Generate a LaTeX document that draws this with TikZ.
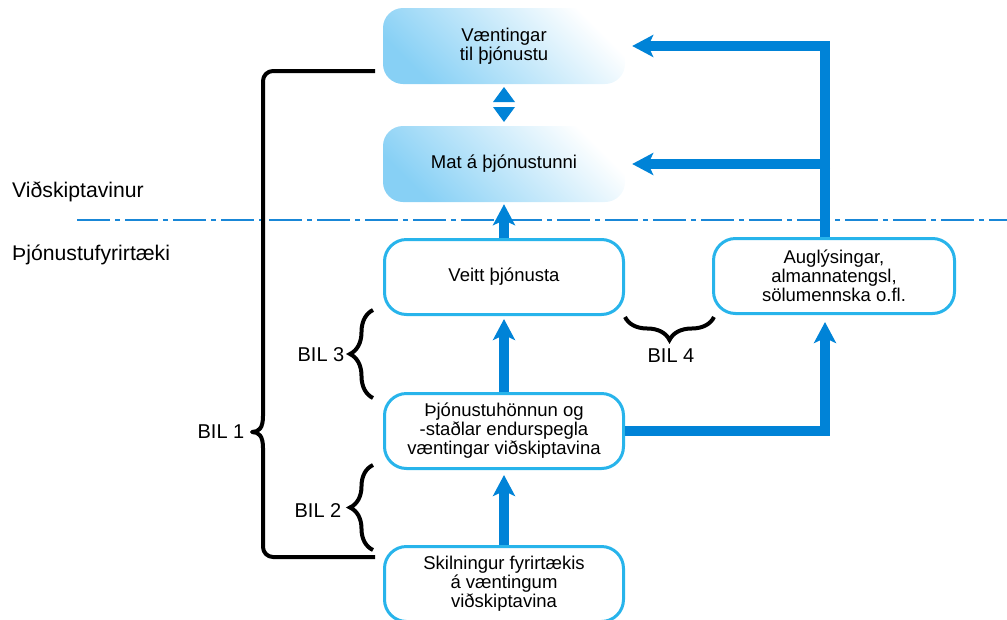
\documentclass[tikz,border=0pt]{standalone}
\usepackage{fontspec}
\setmainfont{Liberation Sans}
\usetikzlibrary{arrows.meta,decorations.pathreplacing,calc}
\definecolor{arrowblue}{RGB}{0,131,215}
\definecolor{boxcyan}{RGB}{40,180,235}
\definecolor{gradblue}{RGB}{135,208,245}
\definecolor{dashblue}{RGB}{25,135,215}
\begin{document}
\begin{tikzpicture}[x=1pt,y=-1pt,
  boxfont/.style={font=\fontsize{18.5}{19}\selectfont},
  gbox/.style={boxfont, align=center, inner sep=0pt, rounded corners=20pt,
    minimum width=242pt, minimum height=76pt,
    left color=gradblue, right color=white, shading angle=135},
  obox/.style={boxfont, align=center, inner sep=0pt, draw=boxcyan, line width=3pt,
    fill=white, rounded corners=22pt, minimum width=239pt, minimum height=75pt},
  bigarrow/.style={draw=arrowblue, line width=10pt, line join=miter,
    -{Stealth[length=21pt,width=22pt,inset=5pt]}},
  bil/.style={font=\fontsize{20}{22}\selectfont},
  side/.style={font=\fontsize{21.2}{24}\selectfont, anchor=base west, inner sep=0pt},
  bracestyle/.style={draw=black, line width=4pt, decorate,
    decoration={brace, amplitude=23pt}},
]
\useasboundingbox (0,0) rectangle (1007,619);

% separator
\draw[dashblue, line width=2pt, dash pattern=on 33pt off 5pt on 5pt off 5pt] (77,220) -- (1007,220);

% side labels
\node[side] (cust) at (12,197) {Viðskiptavinur};
\node[side] (firm) at (12,260) {Þjónustufyrirtæki};

% boxes
\node[gbox] (exp) at (504,46) {Væntingar\\til þjónustu};
\node[gbox] (mat) at (504,164) {Mat á þjónustunni};
\node[obox] (veitt) at (504,277) {Veitt þjónusta};
\node[obox] (hon) at (504,431) {Þjónustuhönnun og\\-staðlar endurspegla\\væntingar viðskiptavina};
\node[obox] (skil) at (504,584) {Skilningur fyrirtækis\\á væntingum\\viðskiptavina};
\node[obox, minimum width=241pt] (aug) at (834,276) {Auglýsingar,\\almannatengsl,\\sölumennska o.fl.};

% double arrow between top boxes
\fill[arrowblue] (493,102) -- (504,87) -- (515,102) -- cycle;
\fill[arrowblue] (493,107) -- (515,107) -- (504,122) -- cycle;

% thick arrows
\draw[bigarrow, shorten >=2pt] (veitt.north) -- (mat.south);
\draw[bigarrow, shorten >=3pt] (hon.north) -- (veitt.south);
\draw[bigarrow, shorten >=5pt] (skil.north) -- (hon.south);
\draw[bigarrow, shorten >=7pt] (hon.east) -| ([xshift=-9pt]aug.south);
\draw[bigarrow, shorten >=7pt] ([xshift=-9pt]aug.north) |- (exp.east);
\draw[bigarrow, shorten >=7pt] ([xshift=-4pt]aug.north |- mat.east) -- (mat.east);

% braces
\draw[bracestyle] (373,398) -- (373,310);
\draw[bracestyle] (373,550) -- (373,465);
\draw[bracestyle] (714,317) -- (625,317);
\draw[line width=4pt, line join=round]
  (375,71) [rounded corners=10pt] -- (263,71) -- (263,300) [sharp corners] -- (263,416)
  .. controls (263,428) and (259,432) .. (252,432)
  .. controls (259,432) and (263,436) .. (263,448)
  [rounded corners=10pt] -- (263,557) -- (375,557);

% BIL labels
\node[bil] (b1) at (221,432) {BIL 1};
\node[bil] (b2) at (318,511) {BIL 2};
\node[bil] (b3) at (321,355) {BIL 3};
\node[bil] (b4) at (671,356) {BIL 4};
\end{tikzpicture}
\end{document}
